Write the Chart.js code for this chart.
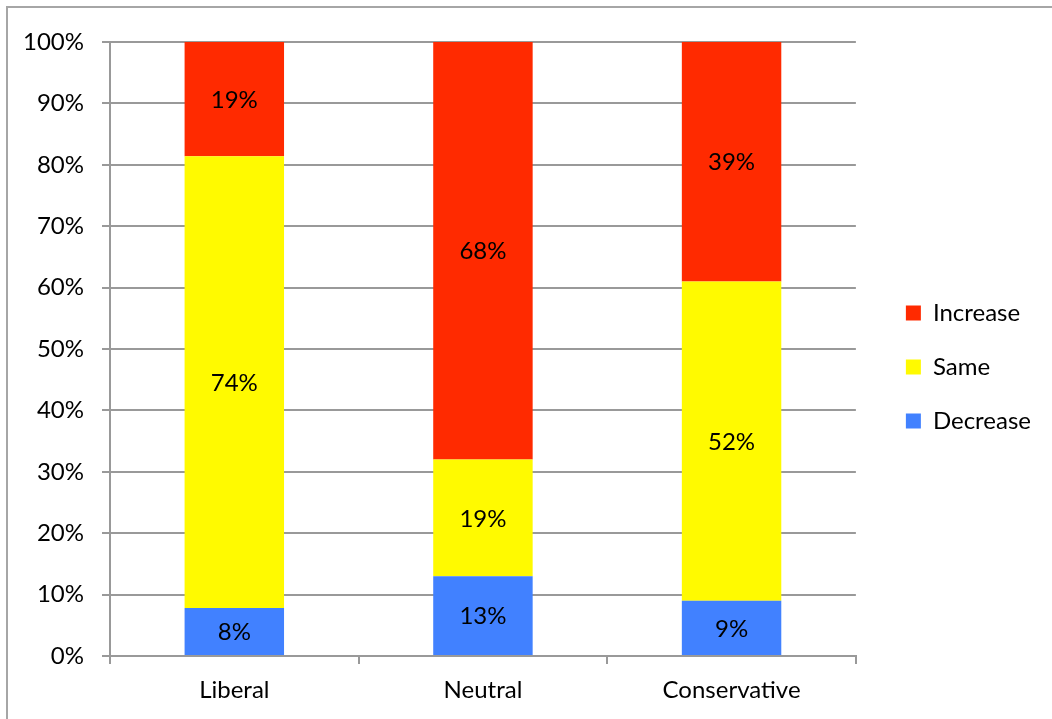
<!DOCTYPE html>
<html>
<head>
<meta charset="utf-8">
<title>Views by political leaning</title>
<script src="https://cdn.jsdelivr.net/npm/chart.js@4"></script>
<style>
  html, body { margin: 0; padding: 0; background: #fff; overflow: hidden; }
  #frame {
    position: absolute; left: 6px; top: 6px;
    width: 1100px; height: 800px;
    border: 2px solid #a6a6a6;
  }
  #wrap { position: absolute; left: 0; top: 0; width: 1052px; height: 719px; }
</style>
</head>
<body>
<div id="frame"></div>
<div id="wrap"><canvas id="chart" width="1052" height="719"></canvas></div>
<script>
const categories = ["Liberal", "Neutral", "Conservative"];
const decreaseValues = [7.8, 13, 9];
const sameValues = [73.6, 19, 52];
const increaseValues = [18.6, 68, 39];
const yTicks = [0, 10, 20, 30, 40, 50, 60, 70, 80, 90, 100];

const fontFamily = "Lato, 'Open Sans', sans-serif";
const fontSize = 24;
const gridColor = "#999999";

// writes the rounded percentage in the middle of each segment
const segmentLabels = {
  id: "segmentLabels",
  afterDatasetsDraw(chart) {
    const ctx = chart.ctx;
    ctx.save();
    ctx.font = fontSize + "px " + fontFamily;
    ctx.fillStyle = "#000";
    ctx.textAlign = "center";
    ctx.textBaseline = "middle";
    chart.data.datasets.forEach((ds, i) => {
      const meta = chart.getDatasetMeta(i);
      meta.data.forEach((bar, j) => {
        const top = Math.max(bar.y, chart.chartArea.top);
        const mid = (top + bar.base) / 2;
        ctx.fillText(Math.round(ds.data[j]) + "%", bar.x, mid + 1);
      });
    });
    ctx.restore();
  }
};

new Chart(document.getElementById("chart"), {
  type: "bar",
  data: {
    labels: categories,
    datasets: [
      { label: "Decrease", data: decreaseValues, backgroundColor: "#4181ff" },
      { label: "Same", data: sameValues, backgroundColor: "#fffa00" },
      { label: "Increase", data: increaseValues, backgroundColor: "#ff2a00" }
    ]
  },
  options: {
    responsive: false,
    animation: false,
    devicePixelRatio: 1,
    layout: { padding: { top: 42, left: 0, right: 11, bottom: 0 } },
    datasets: {
      bar: { categoryPercentage: 1, barPercentage: 0.4 }
    },
    scales: {
      x: {
        stacked: true,
        grid: {
          offset: true,
          drawOnChartArea: false,
          drawTicks: true,
          tickLength: 8,
          color: gridColor,
          lineWidth: 2
        },
        border: { display: true, color: gridColor, width: 2 },
        ticks: { color: "#000", padding: 12, font: { family: fontFamily, size: fontSize } },
        afterFit(scale) { scale.height = 63; }
      },
      y: {
        stacked: true,
        min: 0,
        max: 100,
        afterBuildTicks(scale) {
          scale.ticks = yTicks.map((v) => ({ value: v }));
        },
        grid: { color: gridColor, lineWidth: 2, tickLength: 8 },
        border: { display: true, color: gridColor, width: 2 },
        ticks: {
          color: "#000",
          padding: 18,
          font: { family: fontFamily, size: fontSize },
          callback: (v) => v + "%"
        },
        afterFit(scale) { scale.width = 110; }
      },
      spacer: {
        type: "linear",
        position: "right",
        display: true,
        grid: { display: false },
        border: { display: false },
        ticks: { display: false },
        afterFit(scale) { scale.width = 20; }
      }
    },
    plugins: {
      legend: {
        position: "right",
        reverse: true,
        align: "start",
        // empty title only pushes the items down to where they sit in the original
        title: { display: true, text: "", font: { size: 10 }, padding: { top: 217, bottom: 0 } },
        labels: {
          boxWidth: 15,
          boxHeight: 15,
          padding: 30,
          color: "#000",
          font: { family: fontFamily, size: fontSize }
        }
      },
      tooltip: { enabled: false }
    }
  },
  plugins: [segmentLabels]
});
</script>
</body>
</html>
